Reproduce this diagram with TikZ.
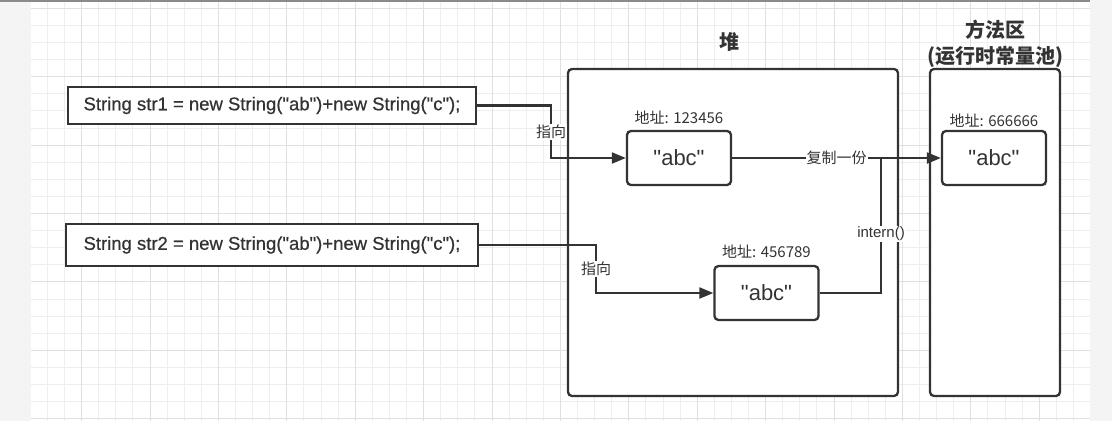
\documentclass[tikz,border=0pt]{standalone}
\usepackage{fontspec}
\setmainfont{Liberation Sans}[Ligatures=TeXOff]
\newfontfamily\codefont{Liberation Sans}[Ligatures=TeXOff, FakeBold=0.6]
\newfontfamily\cjk{Noto Sans CJK SC}
\usetikzlibrary{positioning, arrows.meta, calc}

\definecolor{ink}{HTML}{333333}
\definecolor{gridminor}{HTML}{EEEEEE}
\definecolor{gridmajor}{HTML}{E0E0E0}
\definecolor{sidegray}{HTML}{F4F4F4}
\definecolor{bargray}{HTML}{8A8A8A}

\tikzset{
  codebox/.style={draw=ink, line width=2.3pt, fill=white, text=ink, font=\codefont\fontsize{18.5}{22}\selectfont, inner sep=0pt},
  valbox/.style={draw=ink, line width=2.3pt, rounded corners=4pt, fill=white, text=ink, minimum width=104pt, minimum height=54pt, font=\fontsize{22}{26}\selectfont},
  area/.style={draw=ink, line width=2.3pt, rounded corners=4pt, fill=white, minimum height=327pt},
  title/.style={text=ink, font=\cjk\bfseries\fontsize{20}{26}\selectfont, align=center, inner sep=0pt},
  addr/.style={text=ink, font=\cjk\fontsize{15}{18}\selectfont, inner sep=1pt},
  lbl/.style={fill=white, text=ink, font=\cjk\fontsize{15}{17}\selectfont, inner sep=1pt},
  conn/.style={draw=ink, line width=2.1pt, -{Triangle[length=14pt, width=11pt]}},
  link/.style={draw=ink, line width=2.1pt},
}

\begin{document}
\begin{tikzpicture}[x=1pt, y=-1pt]
  \useasboundingbox (0,0) rectangle (1112,421);

  % canvas with grid
  \fill[white] (0,0) rectangle (1112,421);
  \fill[sidegray] (0,0) rectangle (31,421);
  \fill[sidegray] (1090,0) rectangle (1112,421);
  \begin{scope}
    \clip (31,2) rectangle (1090,421);
    \foreach \i in {-1,...,62}
      \draw[gridminor, line width=0.9pt] ({30.3+17.1*\i},0) -- ({30.3+17.1*\i},421);
    \foreach \i in {-1,...,25}
      \draw[gridminor, line width=0.9pt] (0,{8.3+17.1*\i}) -- (1112,{8.3+17.1*\i});
    \foreach \i in {-1,...,15}
      \draw[gridmajor, line width=1pt] ({81.6+68.4*\i},0) -- ({81.6+68.4*\i},421);
    \foreach \i in {0,...,6}
      \draw[gridmajor, line width=1pt] (0,{8.3+68.4*\i}) -- (1112,{8.3+68.4*\i});
  \end{scope}
  \fill[bargray] (0,0) rectangle (1090,2.2);

  % memory areas
  \node[area, minimum width=330pt] (heap) at (733,232.5) {};
  \node[area, minimum width=130pt] (method) at (995,232.5) {};
  \node[title] (heaptitle) at (729,42) {堆};
  \node[title] (methodtitle) at (995,44) {方法区\\(运行时常量池)};

  % code lines
  \node[codebox, minimum width=408pt, minimum height=37pt] (str1) at (272,105.5) {String str1 = new String("ab")+new String("c");};
  \node[codebox, minimum width=412pt, minimum height=42pt] (str2) at (272,245) {String str2 = new String("ab")+new String("c");};

  % string objects
  \node[valbox] (abcA) at (679,158) {"abc"};
  \node[valbox] (abcB) at (766.5,293) {"abc"};
  \node[valbox] (abcM) at (994,158) {"abc"};
  \node[addr, above=4pt of abcA] (addrA) {地址: 123456};
  \node[addr, above=5pt of abcB] (addrB) {地址: 456789};
  \node[addr, above=1pt of abcM] (addrM) {地址: 666666};

  % references
  \coordinate (turnA) at (551,105.5);
  \coordinate (turnB) at (596,245);
  \coordinate (join) at (881,158);
  \draw[conn] (str1.east) -- (turnA) |- node[lbl, pos=0.25] {指向} (abcA.west);
  \draw[conn] (str2.east) -- (turnB) |- node[lbl, pos=0.25] {指向} (abcB.west);
  \draw[conn] (abcA.east) -- node[lbl] {复制一份} (abcM.west);
  \draw[link] (abcB.east) -| node[lbl, pos=0.72, font=\fontsize{15}{17}\selectfont] {intern()} (join);
\end{tikzpicture}
\end{document}
